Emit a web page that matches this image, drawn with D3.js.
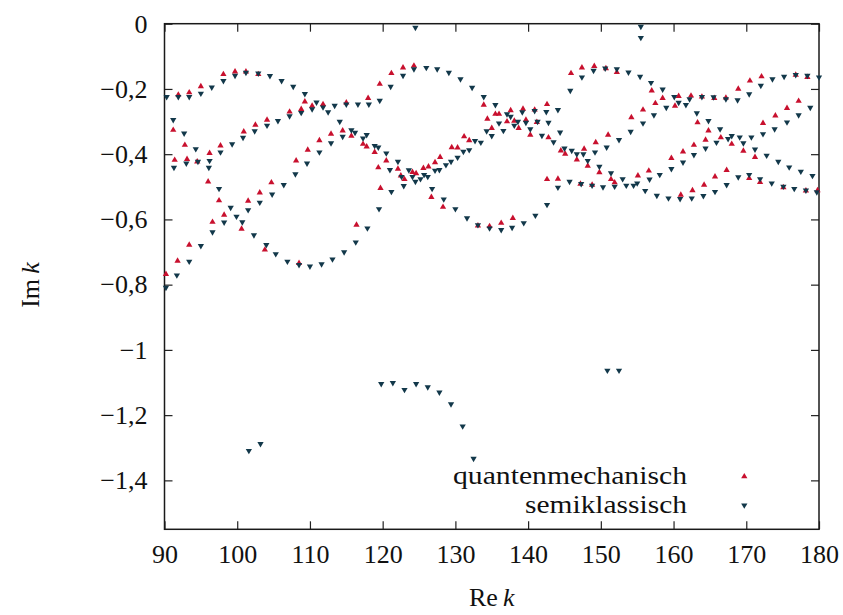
<!DOCTYPE html>
<html>
<head>
<meta charset="utf-8">
<script src="https://cdn.jsdelivr.net/npm/d3@7"></script>
<style>
  body { margin: 0; background: #fff; }
  text { font-family: "Liberation Serif", "DejaVu Serif", serif; fill: #111; }
</style>
</head>
<body>
<script>
// quantenmechanisch (red, up triangles)
var qmRe = [90.2,91.8,93.4,96.6,98.2,101.5,103.1,104.7, 91.9,93.4,95.0,98.1,99.7,101.2,102.9,
  91.2,92.8,91.4,93.1,94.5,96.2,97.7,100.9,102.5,104.1, 96.0,97.5,100.6,103.8,
  108.1,109.7,111.3,112.9,114.5,115.7,117.3,117.8,118.9,119.4,119.7, 109.3,110.3,111.8,107.2,108.8,115.0,118.0,119.6, 116.4,108.5,
  121.2,122.8,124.3,133.9,134.4,135.0, 120.5,122.1,122.5,123.0,124.1,124.6,125.6,126.3,127.2,127.9,129.5,130.3,131.2,131.9, 126.7,128.3,133.1,134.7,
  135.5,136.0,137.1,137.6,138.1,138.7,139.3,139.7,140.3,140.9,141.2,142.6,142.8,144.5,145.1,146.7,147.7,148.2,149.3,149.8, 145.9,147.4,149.1, 136.3,137.9,142.6,144.1,147.2,148.8,
  150.7,152.2,157.0,158.5,157.5,160.2,160.7,162.4,163.9,155.8,154.2,151.0,163.3,164.8,164.4,162.8,161.3,159.7,156.6,155.1,151.4,151.9,161.0,162.6,164.2,
  165.6,167.2,168.9,170.5,172.1,176.8,178.4, 166.5,168.0,169.6,171.2, 172.3,174.0,175.6,177.2, 165.7,167.3,170.4,171.9,175.1,178.2,179.8];
var qmIm = [-0.768,-0.727,-0.678,-0.608,-0.586,-0.543,-0.518,-0.487, -0.218,-0.211,-0.192,-0.155,-0.147,-0.147,-0.155,
  -0.326,-0.372,-0.418,-0.415,-0.423,-0.397,-0.374,-0.331,-0.310,-0.295, -0.484,-0.542,-0.629,-0.693,
  -0.420,-0.387,-0.358,-0.338,-0.328,-0.344,-0.369,-0.377,-0.394,-0.441,-0.504, -0.239,-0.252,-0.247,-0.270,-0.262,-0.242,-0.228,-0.185, -0.617,-0.734,
  -0.152,-0.135,-0.129,-0.249,-0.292,-0.320, -0.420,-0.445,-0.466,-0.477,-0.455,-0.459,-0.443,-0.438,-0.425,-0.409,-0.379,-0.380,-0.346,-0.358, -0.532,-0.562,-0.619,-0.621,
  -0.277,-0.277,-0.300,-0.266,-0.298,-0.320,-0.261,-0.295,-0.341,-0.264,-0.302,-0.247,-0.349,-0.389,-0.399,-0.417,-0.384,-0.436,-0.364,-0.456, -0.152,-0.135,-0.130, -0.611,-0.596,-0.477,-0.476,-0.491,-0.494,
  -0.137,-0.149,-0.205,-0.228,-0.244,-0.252,-0.222,-0.221,-0.224,-0.264,-0.287,-0.341,-0.303,-0.328,-0.356,-0.372,-0.392,-0.412,-0.451,-0.466,-0.477,-0.487,-0.525,-0.511,-0.494,
  -0.228,-0.227,-0.200,-0.175,-0.162,-0.157,-0.164, -0.349,-0.369,-0.390,-0.409, -0.305,-0.282,-0.259,-0.237, -0.469,-0.449,-0.474,-0.486,-0.502,-0.512,-0.511];

// semiklassisch (dark blue, down triangles)
var scRe = [90.3,91.9,93.4,95.0,96.5,98.1,99.7,101.2,102.9,104.5, 91.2,92.7,94.3, 91.3,93.0,94.6,96.1,
  96.2,97.7,99.3,100.8,102.4,104.1, 97.5,99.1,99.9,100.7,102.3,104.0, 98.2,96.6,95.0,93.4,91.7,90.2, 101.5,103.1,104.8,
  106.1,107.7,109.3,110.9,112.5,114.1,115.7,116.2,117.8,117.3,118.9,119.4, 105.6,107.2,108.8,110.3,111.8,113.4,115.0,116.6,118.1,119.6,
  114.5,112.9,111.3,109.6,108.0,106.4, 105.3,106.9,108.5,110.0,111.6,113.1,114.7,116.3,117.9,119.5,
  124.5, 121.1,122.8,124.3,126.0,127.5,129.1,130.7,132.3,133.9,
  120.5,121.0,122.1,122.6,122.9,121.2,123.6,124.1,124.5,125.2,125.7,126.2,127.2,127.8,128.7,129.4,130.3,131.1,131.9,132.7,133.5,134.3,135.0,
  126.8,128.4,130.0,131.6,133.1,134.7,
  135.5,137.1,137.6,139.2,140.9,142.5,144.1,
  136.0,136.6,138.1,138.6,139.7,140.3,141.3,141.9,142.8,143.5,144.4,145.0,146.0,146.7,147.6,148.2,149.2,149.8,
  145.8,147.4,149.0, 136.3,137.8,139.4,141.0,142.6,144.1,145.7,147.3,148.8,
  155.5,155.5, 150.6,152.2,153.8,155.4,156.9,158.5,160.1,160.7,161.7,162.2,163.9, 159.0,157.3,155.8,154.1,152.5,150.8, 163.2,164.8,
  151.4,153.0,155.0,156.7,158.1,159.7,161.3,162.8,164.4, 150.3,151.9,153.5,154.5,156.1,157.7,159.3,160.9,162.5,164.1,
  165.5,167.2,168.8,170.4,172.0,173.6,175.2,176.8,178.4,180.0,
  166.4,165.9,167.5,168.0,169.1,169.6,170.7,171.2,172.3,172.8,173.9,174.4,175.6,175.9,177.2,177.5,178.8,179.1,
  165.7,167.3,168.9,170.4,171.9,173.5,175.1,176.6,178.2,179.7,
  101.6,103.2,119.8,121.4,123.0,124.6,126.2,127.8,129.4,131.0,132.5,150.9,152.5];
var scIm = [-0.224,-0.224,-0.224,-0.214,-0.195,-0.175,-0.159,-0.150,-0.152,-0.160, -0.295,-0.336,-0.384, -0.441,-0.428,-0.423,-0.441,
  -0.420,-0.394,-0.369,-0.349,-0.329,-0.312, -0.506,-0.564,-0.591,-0.608,-0.648,-0.678, -0.609,-0.639,-0.681,-0.729,-0.771,-0.809, -0.571,-0.548,-0.523,
  -0.175,-0.193,-0.215,-0.241,-0.271,-0.300,-0.326,-0.334,-0.341,-0.351,-0.374,-0.379, -0.298,-0.283,-0.273,-0.262,-0.256,-0.251,-0.247,-0.247,-0.247,-0.236,
  -0.346,-0.366,-0.394,-0.428,-0.461,-0.494, -0.706,-0.729,-0.739,-0.744,-0.737,-0.722,-0.700,-0.670,-0.627,-0.568,
  -0.012, -0.193,-0.159,-0.139,-0.135,-0.139,-0.150,-0.170,-0.196,-0.224,
  -0.397,-0.448,-0.423,-0.469,-0.497,-0.515,-0.449,-0.469,-0.484,-0.476,-0.463,-0.469,-0.450,-0.448,-0.433,-0.423,-0.410,-0.392,-0.387,-0.359,-0.364,-0.329,-0.344,
  -0.506,-0.538,-0.568,-0.596,-0.617,-0.627,
  -0.249,-0.277,-0.285,-0.271,-0.267,-0.270,-0.264,
  -0.305,-0.328,-0.312,-0.300,-0.303,-0.323,-0.300,-0.343,-0.303,-0.363,-0.333,-0.382,-0.389,-0.400,-0.400,-0.420,-0.394,-0.438,
  -0.205,-0.164,-0.144, -0.632,-0.625,-0.611,-0.588,-0.555,-0.502,-0.484,-0.491,-0.496,
  -0.009,-0.043, -0.137,-0.139,-0.149,-0.162,-0.181,-0.201,-0.224,-0.242,-0.249,-0.231,-0.224, -0.257,-0.280,-0.305,-0.331,-0.356,-0.379, -0.274,-0.298,
  -0.458,-0.476,-0.489,-0.477,-0.463,-0.445,-0.425,-0.402,-0.382, -0.501,-0.499,-0.496,-0.496,-0.512,-0.527,-0.535,-0.537,-0.535,-0.528,
  -0.225,-0.231,-0.234,-0.216,-0.190,-0.170,-0.162,-0.157,-0.159,-0.164,
  -0.323,-0.364,-0.353,-0.344,-0.348,-0.366,-0.348,-0.385,-0.338,-0.404,-0.323,-0.423,-0.302,-0.440,-0.280,-0.453,-0.257,-0.466,
  -0.515,-0.494,-0.470,-0.463,-0.476,-0.489,-0.499,-0.506,-0.511,-0.516,
  -1.309,-1.288,-1.104,-1.101,-1.122,-1.104,-1.114,-1.130,-1.166,-1.234,-1.333,-1.063,-1.063];

var xTicks = [90, 100, 110, 120, 130, 140, 150, 160, 170, 180];
var yTicks = [0, -0.2, -0.4, -0.6, -0.8, -1, -1.2, -1.4];
var seriesNames = ["quantenmechanisch", "semiklassisch"];

var red = "#c8102e", blue = "#12384a";
var serif = '"Liberation Serif", "DejaVu Serif", serif';

// set the dimensions and margins of the graph
var margin = {top: 23.7, right: 24, bottom: 85.7, left: 164.5},
    width = 843 - margin.left - margin.right,
    height = 615 - margin.top - margin.bottom;

var x = d3.scaleLinear().domain([90, 180]).range([0, width]);
var y = d3.scaleLinear().domain([-1.55, 0]).range([height, 0]);

var de = d3.formatLocale({decimal: ",", thousands: ".", grouping: [3], currency: ["", " €"], minus: "\u2212"});
var fmt = de.format("~g");

var svg = d3.select("body").append("svg")
    .attr("width", 843)
    .attr("height", 615);
var g = svg.append("g")
    .attr("transform", "translate(" + margin.left + "," + margin.top + ")");

// axes, ticks pointing inwards on all four sides
function styleAxis(sel) {
  sel.attr("font-family", null).attr("font-size", null);
  sel.select(".domain").remove();
  sel.selectAll(".tick line").attr("stroke", "#222").attr("stroke-width", 1.2);
  sel.selectAll(".tick text")
    .style("font-family", serif)
    .style("font-size", "26px")
    .attr("fill", "#111");
}
g.append("g").attr("transform", "translate(0," + height + ")")
  .call(d3.axisBottom(x).tickValues(xTicks).tickFormat(fmt).tickSizeInner(-8).tickSizeOuter(0).tickPadding(15))
  .call(styleAxis);
g.append("g")
  .call(d3.axisTop(x).tickValues(xTicks).tickFormat("").tickSizeInner(-8).tickSizeOuter(0))
  .call(styleAxis);
g.append("g")
  .call(d3.axisLeft(y).tickValues(yTicks).tickFormat(fmt).tickSizeInner(-8).tickSizeOuter(0).tickPadding(17))
  .call(styleAxis);
g.append("g").attr("transform", "translate(" + width + ",0)")
  .call(d3.axisRight(y).tickValues(yTicks).tickFormat("").tickSizeInner(-8).tickSizeOuter(0))
  .call(styleAxis);

g.append("rect")
  .attr("width", width).attr("height", height)
  .attr("fill", "none").attr("stroke", "#1a1a1a").attr("stroke-width", 1.5);

// markers
var tri = d3.symbol().type(d3.symbolTriangle).size(17);
var qm = qmRe.map(function (d, i) { return [d, qmIm[i]]; });
var sc = scRe.map(function (d, i) { return [d, scIm[i]]; });

g.selectAll(".qm").data(qm).enter().append("path")
  .attr("class", "qm")
  .attr("d", tri)
  .attr("fill", red)
  .attr("transform", function (d) { return "translate(" + x(d[0]) + "," + y(d[1]) + ")"; });

g.selectAll(".sc").data(sc).enter().append("path")
  .attr("class", "sc")
  .attr("d", tri)
  .attr("fill", blue)
  .attr("transform", function (d) { return "translate(" + x(d[0]) + "," + y(d[1]) + ") rotate(180)"; });

// legend
var legend = svg.append("g");
var legW = [234, 162];
seriesNames.forEach(function (name, i) {
  var yy = 484 + i * 28.7;
  legend.append("text")
    .attr("x", 687).attr("y", yy)
    .attr("text-anchor", "end")
    .attr("textLength", legW[i]).attr("lengthAdjust", "spacingAndGlyphs")
    .style("font-family", serif)
    .style("font-size", "26px")
    .text(name);
  legend.append("path")
    .attr("d", tri)
    .attr("fill", i === 0 ? red : blue)
    .attr("transform", "translate(744.3," + (yy - 7.5) + ")" + (i === 0 ? "" : " rotate(180)"));
});

// axis labels
var xl = svg.append("text")
  .attr("x", margin.left + width / 2).attr("y", 606)
  .attr("text-anchor", "middle")
  .style("font-family", serif).style("font-size", "26px");
xl.append("tspan").text("Re\u2009");
xl.append("tspan").style("font-style", "italic").text("k");

var yl = svg.append("text")
  .attr("transform", "translate(39,285) rotate(-90)")
  .attr("text-anchor", "middle")
  .style("font-family", serif).style("font-size", "26px");
yl.append("tspan").text("Im\u2009");
yl.append("tspan").style("font-style", "italic").text("k");
</script>
</body>
</html>
